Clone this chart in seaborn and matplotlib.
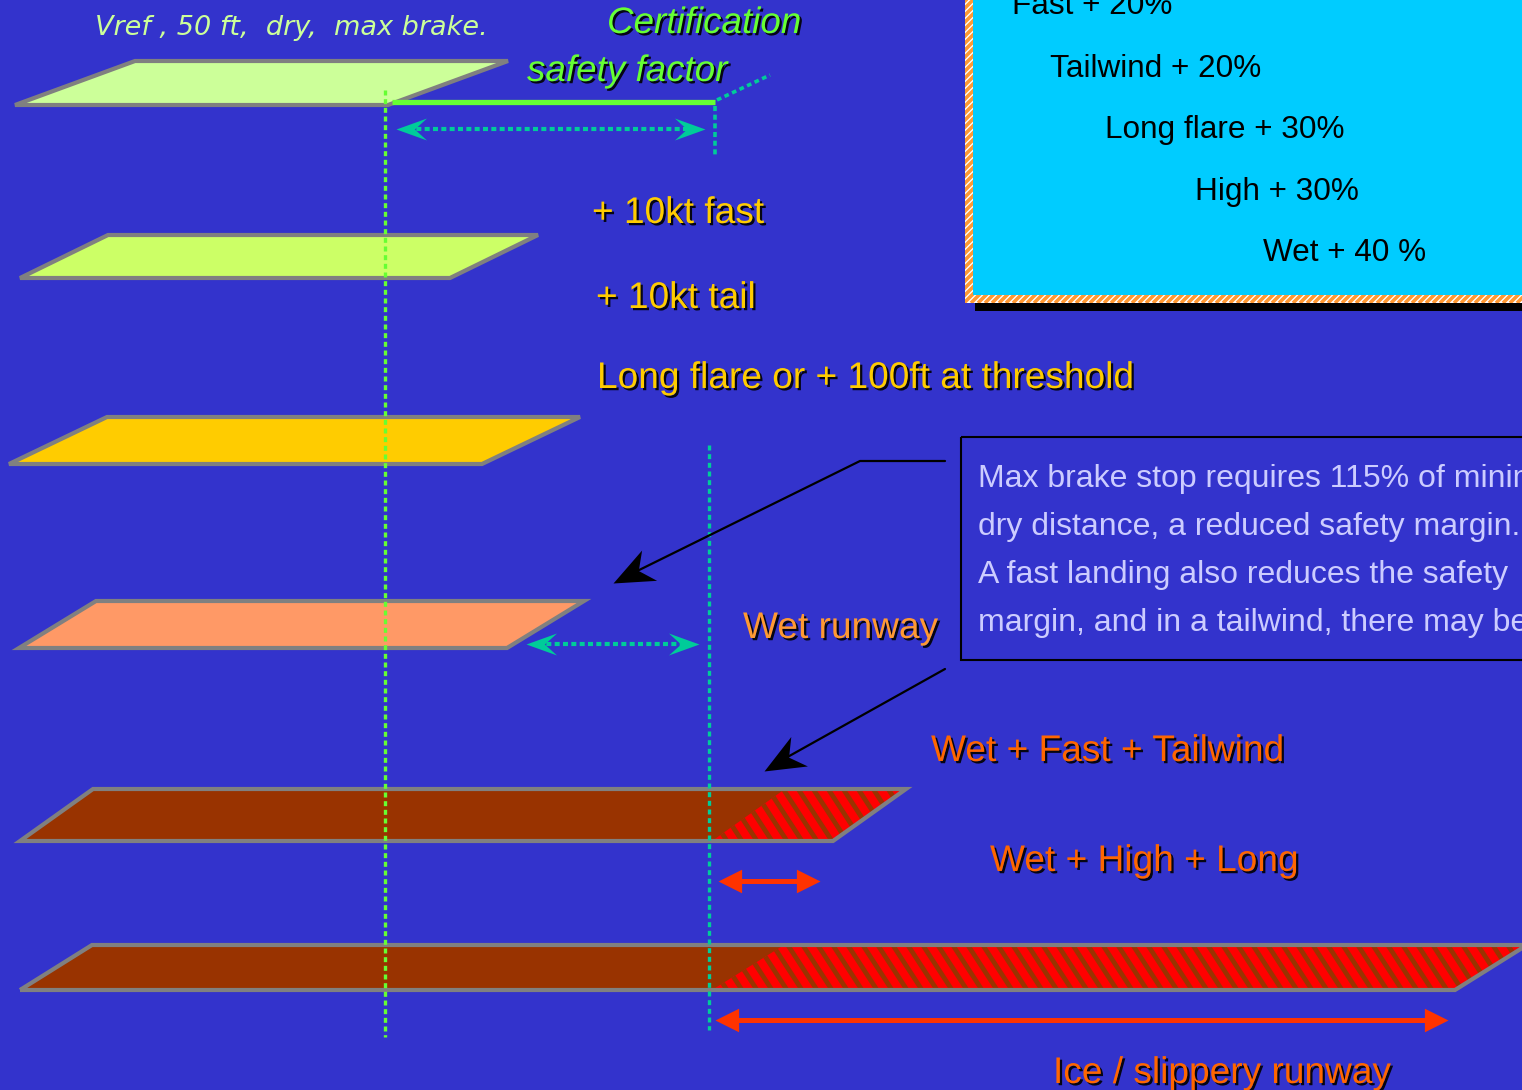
import numpy as np
import matplotlib
matplotlib.use("Agg")
import matplotlib.pyplot as plt
import seaborn as sns
from matplotlib.patches import Polygon, Rectangle
from matplotlib.collections import LineCollection
from matplotlib.path import Path
from matplotlib.markers import MarkerStyle
from matplotlib.transforms import Affine2D
import matplotlib.patheffects as pe

sns.set_theme(style="white")
plt.rcParams["font.family"] = ["Liberation Sans", "DejaVu Sans"]

# ---------------------------------------------------------------- data
# one strip per landing case, top to bottom (distance scale runs left->right)
cases = ["dry", "fast", "long flare", "wet", "wet fast tailwind", "wet high long"]
threshold_x = [15, 20, 9, 19, 20, 20]
stop_x = [388, 450, 482, 507, 833, 1455]
slippery_from_x = [None, None, None, None, 712, 712]
strip_top = [61, 235, 417, 601, 789, 945]
strip_bottom = [105, 278, 464, 648, 841, 990]
strip_skew = [120, 88, 98, 77, 73, 72]
strip_colors = ["#CCFF99", "#CCFF66", "#FFCC00", "#FF9966", "#993300", "#993300"]

dry_stop_x = 385           # dry max-brake stopping point
certified_x = 715          # dry distance plus certification safety factor
wet_certified_x = 709

factor_labels = ["Fast + 20%", "Tailwind + 20%", "Long flare + 30%",
                 "High + 30%", "Wet + 40 %"]
factor_x = [1012, 1050, 1105, 1195, 1263]
factor_y = [14, 77, 138, 200, 261]

note_lines = ["Max brake stop requires 115% of minimum",
              "dry distance, a reduced safety margin.",
              "A fast landing also reduces the safety",
              "margin, and in a tailwind, there may be"]

BG = "#3333CC"
GREY = "#808080"
GREEN = "#66FF33"
TEAL = "#00CC99"
RED = "#FF3300"
YELLOW = "#FFCC00"

# ---------------------------------------------------------------- figure
fig = plt.figure(figsize=(15.22, 10.90), dpi=100)
fig.patch.set_facecolor(BG)
ax = fig.add_axes([0, 0, 1, 1])
ax.set_xlim(0, 1522)
ax.set_ylim(1090, 0)
ax.set_axis_off()


def stripes(clip_patch, x0, x1, y0, y1, period, k, color, lw, z):
    """Diagonal stripes clipped to a patch; k is the x shift per unit of y."""
    h = y1 - y0
    lo = min(x0, x0 - h * k) - period
    hi = max(x1, x1 - h * k) + period
    cs = np.arange(lo, hi, period)
    segs = [[(c, y0), (c + h * k, y1)] for c in cs]
    lc = LineCollection(segs, colors=color, linewidths=lw, zorder=z,
                        capstyle="butt")
    ax.add_collection(lc)
    lc.set_clip_path(clip_patch)


def head(x, y, angle, size, color, notch=0.6, half=0.36):
    """Arrow head with its tip at (x, y), pointing along angle (deg)."""
    verts = [(0, 0), (-1, half), (-notch, 0), (-1, -half), (0, 0)]
    path = Path(verts, closed=True)
    m = MarkerStyle(path, transform=Affine2D().rotate_deg(angle))
    ax.plot([x], [y], marker=m, ms=size, color=color, mew=0, zorder=8)


def screen_angle(x0, y0, x1, y1):
    return np.degrees(np.arctan2(-(y1 - y0), x1 - x0))


# ---------------------------------------------------------------- strips
for i, case in enumerate(cases):
    x0, x1 = threshold_x[i], stop_x[i]
    t, b, s = strip_top[i], strip_bottom[i], strip_skew[i]
    verts = [(x0, b), (x0 + s, t), (x1 + s, t), (x1, b)]
    ax.add_patch(Polygon(verts, closed=True, fc=strip_colors[i], lw=0, zorder=2))
    sf = slippery_from_x[i]
    if sf is not None:
        hv = [(sf, b), (sf + s, t), (x1 + s, t), (x1, b)]
        hp = Polygon(hv, closed=True, fc="#FF0000", lw=0, zorder=3)
        ax.add_patch(hp)
        stripes(hp, sf, x1 + s, t, b, 15, 0.65, strip_colors[i], 3.4, 3.5)
    ax.add_patch(Polygon(verts, closed=True, fc="none", ec=GREY, lw=3,
                         joinstyle="miter", zorder=4))

# certification safety factor on the dry strip
ax.plot([dry_stop_x + 7, certified_x], [102, 102], color=GREEN, lw=3.8,
        solid_capstyle="butt", zorder=5)
ax.plot([certified_x + 2, 770], [100, 75], color=TEAL, lw=2.6,
        ls=(0, (1.3, 1.0)), zorder=5)
ax.plot([certified_x, certified_x], [106, 158], color=TEAL, lw=2.6,
        ls=(0, (1.4, 1.0)), zorder=5)

# reference verticals
ax.plot([dry_stop_x, dry_stop_x], [90, 1037], color=GREEN, lw=2.4,
        ls=(0, (1.5, 1.1)), zorder=5)
ax.plot([wet_certified_x, wet_certified_x], [445, 1030], color=TEAL, lw=2.4,
        ls=(0, (1.5, 1.1)), zorder=5)

# dotted distance arrows
for xa, xb, y in [(396, 705, 129), (526, 699, 644)]:
    ax.plot([xa + 12, xb - 12], [y, y], color=TEAL, lw=3.0,
            ls=(0, (1.2, 0.8)), zorder=6)
    head(xa, y, 180, 44, TEAL)
    head(xb, y, 0, 44, TEAL)

# solid red distance arrows
for xa, xb, y in [(718, 820, 881), (715, 1448, 1020)]:
    ax.plot([xa + 10, xb - 10], [y, y], color=RED, lw=3.6,
            solid_capstyle="butt", zorder=6)
    head(xa, y, 180, 34, RED, notch=1.0, half=0.5)
    head(xb, y, 0, 34, RED, notch=1.0, half=0.5)

# callout arrows from the note box
ax.plot([945, 860, 625], [461, 461, 577], color="black", lw=1.6, zorder=7)
head(613, 583, screen_angle(860, 461, 613, 583), 58, "black", notch=0.7, half=0.42)
ax.plot([945, 775], [669, 764], color="black", lw=1.6, zorder=7)
head(764, 771, screen_angle(945, 669, 764, 771), 58, "black", notch=0.7, half=0.42)

# ---------------------------------------------------------------- factor panel
ax.add_patch(Rectangle((975, -20), 600, 331, fc="black", lw=0, zorder=2))
frame = Rectangle((965, -20), 600, 323, fc="white", lw=0, zorder=3)
ax.add_patch(frame)
stripes(frame, 965, 1565, -20, 303, 7, -1.0, "#FF9933", 2.6, 3.5)
ax.add_patch(Rectangle((973, -20), 600, 315, fc="#00CCFF", lw=0, zorder=4))
for lab, x, y in zip(factor_labels, factor_x, factor_y):
    ax.text(x, y, lab, fontsize=22.7, color="black", ha="left",
            va="baseline", zorder=9)

# ---------------------------------------------------------------- note box
ax.add_patch(Rectangle((961, 437), 640, 223, fc="none", ec="black", lw=1.5,
                       zorder=5))
for j, line in enumerate(note_lines):
    ax.text(978, 487 + 48 * j, line, fontsize=23, color="#CCCCFF",
            ha="left", va="baseline", zorder=9)

# ---------------------------------------------------------------- labels
shadow = [pe.withSimplePatchShadow(offset=(1.6, -1.6), shadow_rgbFace="black",
                                   alpha=0.9)]

ax.text(95, 35, "Vref , 50 ft,  dry,  max brake.", fontsize=19.5,
        color="#CCFF99", style="italic", family=["DejaVu Sans"],
        ha="left", va="baseline", zorder=9)
ax.text(607, 33, "Certification", fontsize=26.5, color=GREEN, style="italic",
        ha="left", va="baseline", path_effects=shadow, zorder=9)
ax.text(527, 81, "safety factor", fontsize=26.5, color=GREEN, style="italic",
        ha="left", va="baseline", path_effects=shadow, zorder=9)

case_labels = [("+ 10kt fast", 592, 223, YELLOW),
               ("+ 10kt tail", 596, 308, YELLOW),
               ("Long flare or + 100ft at threshold", 597, 388, YELLOW),
               ("Wet runway", 743, 638, "#FF9933"),
               ("Wet + Fast + Tailwind", 931, 761, "#FF6600"),
               ("Wet + High + Long", 990, 871, "#FF6600"),
               ("Ice / slippery runway", 1053, 1083, "#FF6600")]
for txt, x, y, c in case_labels:
    ax.text(x, y, txt, fontsize=26.7, color=c, ha="left", va="baseline",
            path_effects=shadow, zorder=9)

fig.savefig("out.png", dpi=100, facecolor=BG)
